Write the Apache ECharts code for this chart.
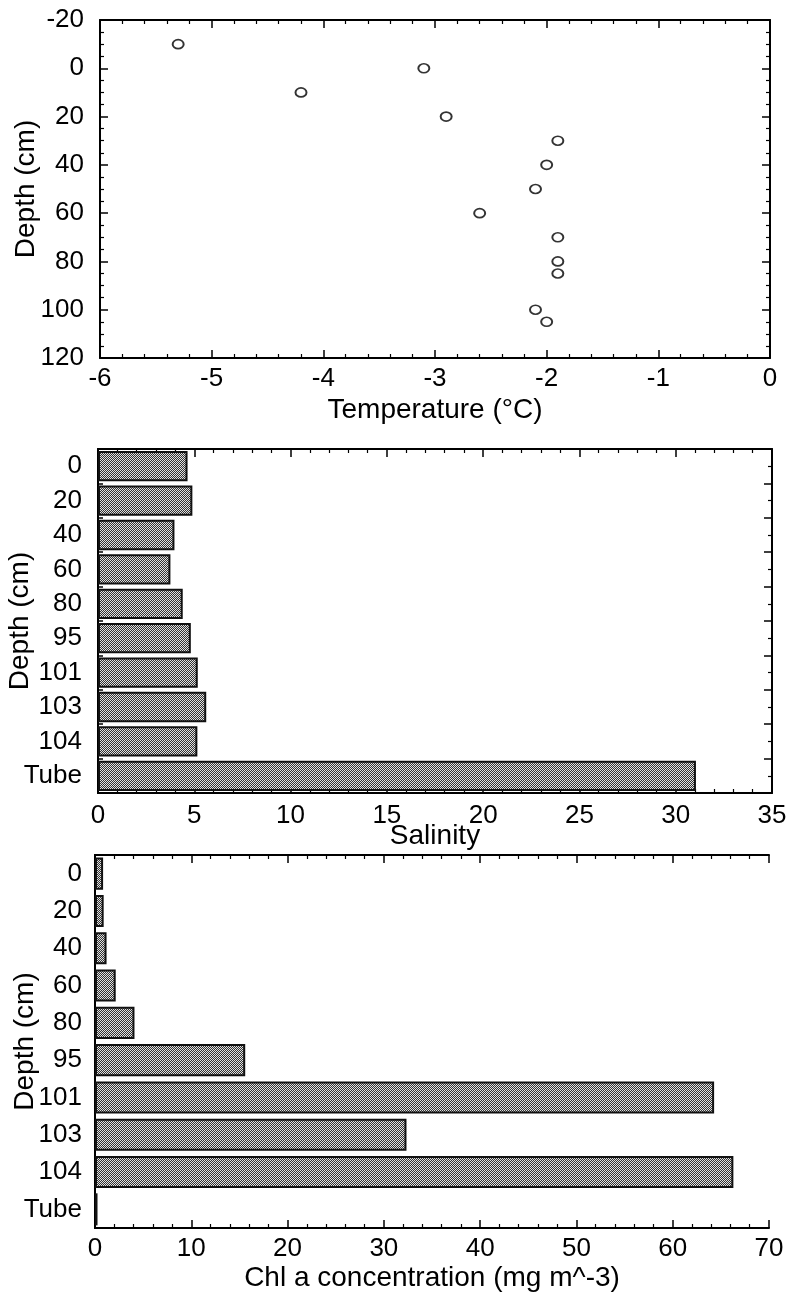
<!DOCTYPE html>
<html>
<head>
<meta charset="utf-8">
<script src="https://cdn.jsdelivr.net/npm/echarts@6/dist/echarts.min.js"></script>
<style>
  html, body { margin: 0; padding: 0; background: #fff; }
  #main { width: 792px; height: 1293px; }
</style>
</head>
<body>
<div id="main"></div>
<script>
// temperature profile
var tempDepth = [-10, 0, 10, 20, 30, 40, 50, 60, 70, 80, 85, 100, 105];
var tempValue = [-5.3, -3.1, -4.2, -2.9, -1.9, -2.0, -2.1, -2.6, -1.9, -1.9, -1.9, -2.1, -2.0];

// bar categories (shared by salinity and chl a)
var depthLabels = ['0', '20', '40', '60', '80', '95', '101', '103', '104', 'Tube'];
var salinity = [4.65, 4.9, 3.97, 3.76, 4.4, 4.82, 5.18, 5.62, 5.16, 31.05];
var chlA = [0.84, 0.9, 1.2, 2.15, 4.1, 15.6, 64.3, 32.35, 66.3, 0.26];

// stippled grey fill like the scanned figure
var pat = document.createElement('canvas');
pat.width = 4; pat.height = 4;
var pctx = pat.getContext('2d');
for (var i = 0; i < 4; i++) {
  for (var j = 0; j < 4; j++) {
    pctx.fillStyle = (i + j) % 2 ? '#333' : '#e0e0e0';
    pctx.fillRect(i, j, 1, 1);
  }
}

var font = 'Liberation Sans';
var lineStyle = { color: '#000', width: 2 };
var nameStyle = { color: '#000', fontSize: 28, fontFamily: font };

function valAxis(grid, pos, min, max, interval, minorSplit, showLabel, name, nameGap, margin) {
  return {
    type: 'value', gridIndex: grid, position: pos, min: min, max: max, interval: interval,
    axisLine: { show: true, onZero: false, lineStyle: lineStyle },
    axisTick: { show: true, inside: true, length: 8, lineStyle: { color: '#000', width: 1.5 } },
    minorTick: { show: true, splitNumber: minorSplit, length: 4, lineStyle: { color: '#000', width: 1.2 } },
    axisLabel: { show: showLabel, margin: margin || 8, color: '#000', fontSize: 26, fontFamily: font },
    splitLine: { show: false },
    name: name || '', nameLocation: 'middle', nameGap: nameGap || 0, nameTextStyle: nameStyle,
    nameMoveOverlap: false
  };
}

var chart = echarts.init(document.getElementById('main'));

var yTop = valAxis(0, 'left', -20, 120, 20, 4, true, 'Depth (cm)', 60, 16);
yTop.inverse = true;
yTop.nameRotate = 90;
var yTopR = valAxis(0, 'right', -20, 120, 20, 4, false);
yTopR.inverse = true;

function catAxis(grid, name, nameGap, margin) {
  return {
    type: 'category', gridIndex: grid, inverse: true, data: depthLabels,
    axisLine: { show: true, lineStyle: lineStyle },
    axisTick: { show: false },
    axisLabel: { margin: margin, color: '#000', fontSize: 26, fontFamily: font },
    name: name, nameLocation: 'middle', nameGap: nameGap, nameRotate: 90, nameTextStyle: nameStyle,
    nameMoveOverlap: false
  };
}

var midTickR = valAxis(1, 'right', 0, 10, 1, 2, false);
var midTickL = valAxis(1, 'left', 0, 10, 1, 2, false);
midTickL.axisTick.length = 5;
midTickL.minorTick.length = 3;

var bottomFrameR = {
  type: 'value', gridIndex: 2, position: 'right', min: 0, max: 10,
  axisLine: { show: true, lineStyle: lineStyle },
  axisTick: { show: false }, axisLabel: { show: false }, splitLine: { show: false }
};

var barStyle = {
  color: { image: pat, repeat: 'repeat' },
  borderColor: '#111',
  borderWidth: 2
};

chart.setOption({
  animation: false,
  backgroundColor: '#fff',
  grid: [
    { left: 100, right: 22, top: 20, height: 338, outerBoundsMode: 'none' },
    { left: 98, right: 20, top: 449, height: 344, outerBoundsMode: 'none' },
    { left: 95, right: 23, top: 855, height: 373, outerBoundsMode: 'none' }
  ],
  xAxis: [
    valAxis(0, 'bottom', -6, 0, 1, 5, true, 'Temperature (°C)', 38),
    valAxis(0, 'top', -6, 0, 1, 5, false),
    valAxis(1, 'bottom', 0, 35, 5, 5, true, 'Salinity', 29, 10),
    valAxis(1, 'top', 0, 35, 5, 5, false),
    valAxis(2, 'bottom', 0, 70, 10, 5, true, 'Chl a concentration (mg m^-3)', 36, 8),
    valAxis(2, 'top', 0, 70, 10, 5, false)
  ],
  yAxis: [
    yTop,
    yTopR,
    catAxis(1, 'Depth (cm)', 64, 16),
    midTickR,
    midTickL,
    catAxis(2, 'Depth (cm)', 56, 13),
    bottomFrameR
  ],
  series: [
    {
      type: 'scatter', xAxisIndex: 0, yAxisIndex: 0,
      data: tempValue.map(function (v, i) { return [v, tempDepth[i]]; }),
      symbol: 'circle', symbolSize: [11, 9],
      itemStyle: { color: '#fff', borderColor: '#000', borderWidth: 1.8 }
    },
    {
      type: 'bar', xAxisIndex: 2, yAxisIndex: 2, data: salinity,
      barCategoryGap: '12%', itemStyle: barStyle
    },
    {
      type: 'bar', xAxisIndex: 4, yAxisIndex: 5, data: chlA,
      barCategoryGap: '14%', itemStyle: barStyle
    }
  ]
});
</script>
</body>
</html>
